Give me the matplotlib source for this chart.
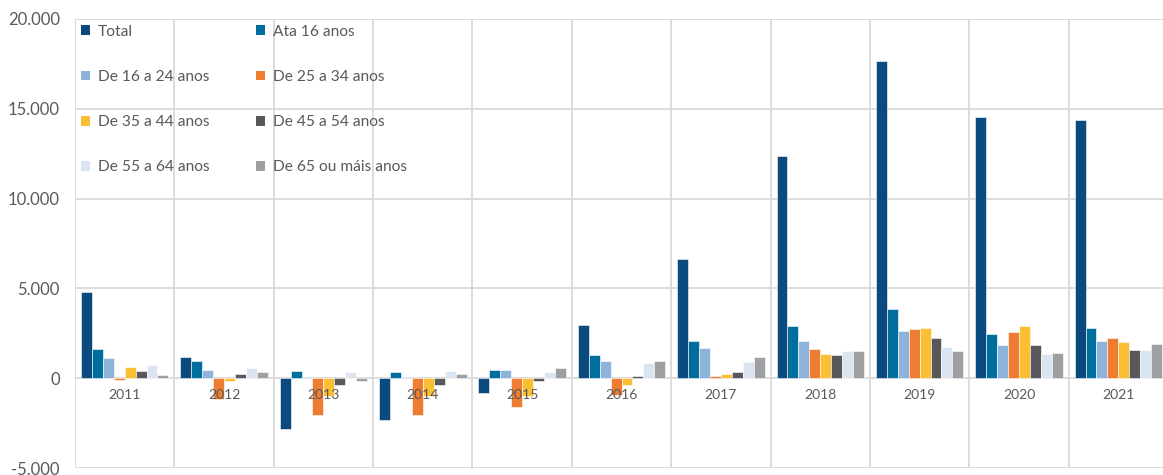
import matplotlib.pyplot as plt
from matplotlib.patches import Patch
from matplotlib.ticker import FuncFormatter
import numpy as np

plt.rcParams['font.family'] = ['Lato', 'DejaVu Sans']

years = ["2011", "2012", "2013", "2014", "2015", "2016", "2017", "2018", "2019", "2020", "2021"]
series_names = ["Total", "Ata 16 anos", "De 16 a 24 anos", "De 25 a 34 anos",
                "De 35 a 44 anos", "De 45 a 54 anos", "De 55 a 64 anos", "De 65 ou máis anos"]

total = [4800, 1200, -2850, -2300, -800, 2950, 6650, 12400, 17670, 14560, 14390]
ata_16 = [1600, 950, 400, 320, 480, 1280, 2070, 2880, 3830, 2480, 2790]
de_16_24 = [1100, 480, 80, 80, 480, 950, 1670, 2070, 2630, 1830, 2070]
de_25_34 = [-80, -1150, -2050, -2050, -1600, -950, 150, 1610, 2720, 2560, 2240]
de_35_44 = [650, -150, -1000, -1000, -1000, -400, 240, 1370, 2800, 2890, 2000]
de_45_54 = [400, 230, -400, -400, -150, 150, 330, 1280, 2240, 1830, 1590]
de_55_64 = [720, 550, 320, 400, 320, 870, 890, 1500, 1760, 1350, 1590]
de_65_mais = [170, 320, -150, 230, 570, 950, 1190, 1500, 1500, 1430, 1910]

colors = ["#0B4A7F", "#006E9C", "#8DB3DA", "#EE7D31",
          "#FBBF33", "#58585A", "#DBE5F1", "#9E9FA0"]

all_series = [total, ata_16, de_16_24, de_25_34, de_35_44, de_45_54, de_55_64, de_65_mais]

GRID_COLOR = "#D9D9D9"
TEXT_COLOR = "#595959"
BAR_WIDTH = 0.11


def main():
    fig = plt.figure(figsize=(11.63, 4.75), dpi=100)
    ax = fig.add_axes([0.0645, 0.0147, 0.9398, 0.9453])

    x = np.arange(len(years))
    n = len(all_series)
    for k, (values, color) in enumerate(zip(all_series, colors)):
        offset = (k - (n - 1) / 2) * BAR_WIDTH
        ax.bar(x + offset, values, width=BAR_WIDTH, color=color,
               edgecolor="white", linewidth=0.4, zorder=3)

    ax.set_xlim(-0.5, len(years) - 0.5)
    ax.set_ylim(-5000, 20000)

    # grid lines: horizontal at each 5000, vertical between years
    for yv in range(-5000, 20001, 5000):
        ax.axhline(yv, color=GRID_COLOR, linewidth=1.3, zorder=1)
    for xv in np.arange(-0.5, len(years), 1.0):
        ax.axvline(xv, color=GRID_COLOR, linewidth=1.3, zorder=1)

    for spine in ax.spines.values():
        spine.set_visible(False)

    ax.set_xticks([])
    ax.set_yticks(range(-5000, 20001, 5000))
    ax.yaxis.set_major_formatter(FuncFormatter(lambda v, _: f"{int(v):,}".replace(",", ".")))
    ax.tick_params(axis="y", length=0, pad=11, labelsize=12, labelcolor=TEXT_COLOR)

    # year labels just under the zero line
    for i, year in enumerate(years):
        ax.annotate(year, (i, 0), xytext=(0, -12), textcoords="offset points",
                    ha="center", va="center", fontsize=10, color=TEXT_COLOR, zorder=5)

    handles = [Patch(facecolor=c, edgecolor="none") for c in colors]
    order = [0, 2, 4, 6, 1, 3, 5, 7]
    ax.legend([handles[i] for i in order], [series_names[i] for i in order],
              ncol=2, loc="upper left", bbox_to_anchor=(0.0, 1.0),
              frameon=False, fontsize=11.2, labelcolor=TEXT_COLOR,
              handlelength=0.6, handleheight=0.6, handletextpad=0.5,
              labelspacing=2.0, columnspacing=2.95, borderaxespad=0.0,
              borderpad=0.38)

    fig.savefig("out.png", dpi=100)


if __name__ == "__main__":
    main()
